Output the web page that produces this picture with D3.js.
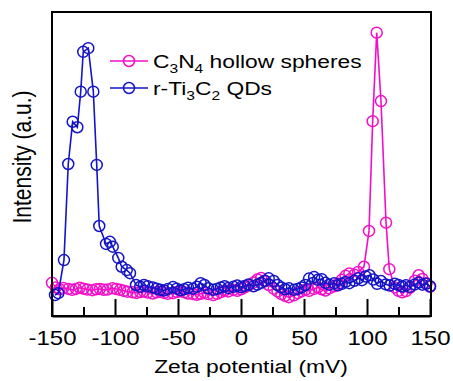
<!DOCTYPE html>
<html>
<head>
<meta charset="UTF-8">
<script src="https://d3js.org/d3.v7.min.js"></script>
<style>
  body { margin: 0; background: #fff; }
  text { font-family: "Liberation Sans", Arial, sans-serif; fill: #000; }
</style>
</head>
<body>
<div id="chart"></div>
<script>
// C3N4 hollow spheres (pink)
var pinkX = [-150,-147,-144,-141,-137,-134,-131,-128,-125,-122,-118,-115,-112,-109,-106,-102,-99,-96,-93,-90,
  -86,-83,-80,-77,-74,-70,-67,-64,-61,-58,-54,-51,-48,-45,-42,-38,-35,-32,-29,-26,-22,-19,-16,-13,-10,-6,-3,0,
  3,6,10,13,16,19,22,26,29,32,35,38,42,45,48,51,54,58,61,64,67,70,74,77,80,83,86,90,93,
  97.6,101.6,104.5,107.7,111.1,115.1,117.7,122,125,128,131,134,138,141,144,147,150];
var pinkY = [10.9,9.4,8.8,9.2,8.9,8.6,8.9,9.3,9.0,8.7,8.5,8.8,8.9,8.6,8.7,9.1,8.9,8.6,8.3,8.0,
  7.8,7.6,7.9,8.1,7.7,7.4,7.8,8.0,7.6,7.3,7.5,7.9,8.2,7.8,7.4,7.2,7.0,7.3,7.6,7.2,6.9,7.3,7.9,8.4,8.1,8.6,8.3,8.8,
  9.4,10.1,11.0,12.0,12.5,11.4,10.2,9.0,8.1,7.2,6.6,6.2,6.8,7.5,8.1,8.6,8.3,8.9,9.4,8.8,8.4,9.1,9.8,10.6,11.9,13.2,14.0,13.6,14.5,
  16.2,28.0,64.1,93.2,70.7,30.7,15.4,9.4,8.3,7.8,8.2,9.3,11.6,13.4,12.2,10.8,9.6];

// r-Ti3C2 QDs (blue)
var blueX = [-147.6,-145,-140.5,-137.1,-133.6,-129.9,-127.2,-125.2,-121.2,-117.2,-114.5,-112.5,-107.1,-104,-101.8,
  -97.4,-94.7,-90.7,-88.1,-83.3,-80,-77,-74,-70,-67,-64,-61,-58,-54,-51,-48,-45,-42,-38,-35,-32,-29,-26,-22,-19,
  -16,-13,-10,-6,-3,0,3,6,10,13,16,19,22,26,29,32,35,38,42,45,48,51,54,58,61,64,67,70,74,77,80,83,86,90,93,96,
  99,102,105,108,111,115,118,122,125,128,131,134,138,141,144,147,150];
var blueY = [6.9,7.5,18.4,50.0,63.9,62.1,73.8,86.9,88.1,73.8,49.7,29.6,23.7,24.4,22.8,
  19.1,16.2,15.1,14.1,10.2,9.6,10.2,9.8,9.4,9.0,8.6,8.4,8.9,9.5,9.0,8.5,8.8,9.3,9.0,9.6,10.8,10.2,9.1,8.6,8.9,
  9.4,9.8,9.2,9.6,10.0,9.5,9.9,10.4,9.8,10.3,10.9,11.6,12.4,11.5,10.2,9.4,8.8,9.1,8.6,8.9,9.4,10.2,12.3,12.8,11.9,12.1,10.9,10.3,10.8,10.1,10.6,11.2,10.8,11.6,12.4,11.8,
  13.0,13.4,12.0,10.6,11.5,10.4,10.0,10.6,10.2,9.7,10.1,9.6,10.4,11.0,10.3,10.6,9.8];

var majorTicks = [-150,-100,-50,0,50,100,150];
var minorTicks = [-125,-75,-25,25,75,125];

var pinkColor = "#F20FC8", blueColor = "#1414C8";
var W = 453, H = 381;
var mLeft = 52, mRight = 431, mTop = 12, mBottom = 316;
var stretch = 1.2;

var svg = d3.select("#chart").append("svg")
  .attr("width", W).attr("height", H);

var x = d3.scaleLinear().domain([-150, 150]).range([mLeft, mRight - 1]);
var y = d3.scaleLinear().domain([0, 100]).range([mBottom, mTop]);

// series
function drawSeries(xs, ys, color) {
  var pts = xs.map(function(d, i) { return [d, ys[i]]; });
  var line = d3.line().x(function(d) { return x(d[0]); }).y(function(d) { return y(d[1]); });
  svg.append("path").datum(pts)
    .attr("d", line).attr("fill", "none")
    .attr("stroke", color).attr("stroke-width", 1.6);
  svg.append("g").selectAll("circle").data(pts).enter().append("circle")
    .attr("cx", function(d) { return x(d[0]); })
    .attr("cy", function(d) { return y(d[1]); })
    .attr("r", 5.5)
    .attr("fill", "none").attr("stroke", color).attr("stroke-width", 1.5);
}
drawSeries(pinkX, pinkY, pinkColor);
drawSeries(blueX, blueY, blueColor);

// frame
svg.append("rect")
  .attr("x", mLeft).attr("y", mTop)
  .attr("width", mRight - mLeft).attr("height", mBottom - mTop)
  .attr("fill", "none").attr("stroke", "#000").attr("stroke-width", 2);

// bottom axis, ticks pointing inward
var xAxis = svg.append("g").attr("transform", "translate(0," + mBottom + ")")
  .call(d3.axisBottom(x).tickValues(majorTicks).tickSizeInner(-17).tickSizeOuter(0)
    .tickFormat(function(d) { return String(d); }));
xAxis.select(".domain").attr("stroke-width", 2);
xAxis.selectAll(".tick line").attr("stroke-width", 2);
xAxis.selectAll(".tick text")
  .attr("y", 29).attr("dy", null)
  .attr("transform", "scale(" + stretch + ",1)")
  .style("font-size", "20px")
  .style("font-family", "'Liberation Sans', Arial, sans-serif")
  .attr("fill", "#000");

var minorAxis = svg.append("g").attr("transform", "translate(0," + mBottom + ")")
  .call(d3.axisBottom(x).tickValues(minorTicks).tickSizeInner(-9).tickSizeOuter(0).tickFormat(""));
minorAxis.select(".domain").remove();
minorAxis.selectAll(".tick line").attr("stroke-width", 2);

// axis titles
svg.append("text")
  .attr("transform", "translate(251,373) scale(" + stretch + ",1)")
  .attr("text-anchor", "middle")
  .style("font-size", "19px")
  .text("Zeta potential (mV)");

svg.append("text")
  .attr("transform", "translate(31,157) rotate(-90) scale(1," + stretch + ")")
  .attr("text-anchor", "middle")
  .style("font-size", "21px")
  .text("Intensity (a.u.)");

// legend
var legend = [
  {color: pinkColor, y: 61, parts: [["C", 0], ["3", 1], ["N", 0], ["4", 1], [" hollow spheres", 0]]},
  {color: blueColor, y: 88, parts: [["r-Ti", 0], ["3", 1], ["C", 0], ["2", 1], [" QDs", 0]]}
];
legend.forEach(function(l) {
  svg.append("line")
    .attr("x1", 110).attr("x2", 148).attr("y1", l.y).attr("y2", l.y)
    .attr("stroke", l.color).attr("stroke-width", 1.6);
  svg.append("circle")
    .attr("cx", 129).attr("cy", l.y).attr("r", 5.5)
    .attr("fill", "none").attr("stroke", l.color).attr("stroke-width", 1.5);
  var t = svg.append("text")
    .attr("transform", "translate(153," + (l.y + 6.5) + ") scale(" + stretch + ",1)")
    .style("font-size", "19px");
  l.parts.forEach(function(p) {
    var ts = t.append("tspan").text(p[0]);
    if (p[1]) ts.style("font-size", "13px").attr("dy", 5);
    else if (t.selectAll("tspan").size() > 1) ts.attr("dy", -5);
  });
});
</script>
</body>
</html>
